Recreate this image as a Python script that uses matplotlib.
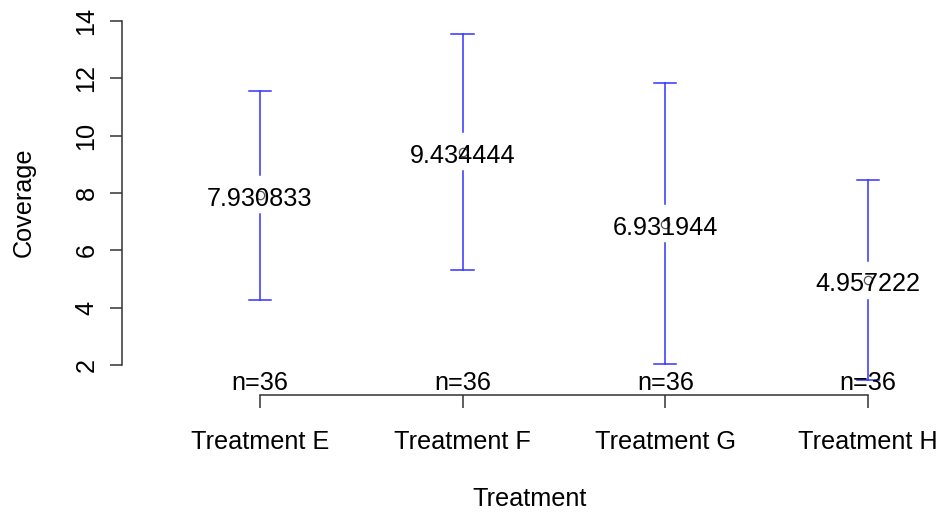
import matplotlib
matplotlib.use("Agg")
import matplotlib.pyplot as plt
import numpy as np

plt.rcParams['font.family'] = ['Liberation Sans', 'DejaVu Sans']

categories = ["Treatment E", "Treatment F", "Treatment G", "Treatment H"]
means = [7.930833, 9.434444, 6.931944, 4.957222]
upper = [11.55, 13.53, 11.85, 8.45]
lower = [4.27, 5.31, 2.02, 1.48]
counts = [36, 36, 36, 36]
yticks = [2, 4, 6, 8, 10, 12, 14]

fig = plt.figure(figsize=(9.38, 5.14), dpi=100)
ax = fig.add_axes([122/938, 1-395/514, 1-122/938, (395-10)/514])
x = np.arange(1, len(categories)+1)
ax.set_xlim(0.32, 1 + (938-260)/202.7)
ax.set_ylim(0.954, 14.38)

gap = 0.68
cap = 0.055
fs = 18.2
for xi, m, u, l, n in zip(x, means, upper, lower, counts):
    ax.plot([xi, xi], [m + gap, u], color='#3333ff', lw=1.1)
    ax.plot([xi, xi], [l, m - gap], color='#3333ff', lw=1.1)
    ax.plot([xi - cap, xi + cap], [u, u], color='#3333ff', lw=1.1)
    ax.plot([xi - cap, xi + cap], [l, l], color='#3333ff', lw=1.1)
    ax.plot([xi], [m], marker='o', ms=6, mfc='none', mec='#555555', mew=0.9)
    ax.text(xi, m - 0.14, f"{m:.6f}".rstrip('0'), ha='center', va='center', fontsize=fs, color='black')
    ax.text(xi, 1.36, f"n={n}", ha='center', va='center', fontsize=fs, color='black')

for s in ['top', 'right']:
    ax.spines[s].set_visible(False)
ax.spines['left'].set_bounds(yticks[0], yticks[-1])
ax.spines['bottom'].set_bounds(x[0], x[-1])
for s in ['left', 'bottom']:
    ax.spines[s].set_color('#333333')
    ax.spines[s].set_linewidth(1.1)

ax.set_yticks(yticks)
ax.set_yticklabels([str(t) for t in yticks], rotation=90, va='center', fontsize=fs)
ax.set_xticks(x)
ax.set_xticklabels(categories, fontsize=fs)
ax.tick_params(axis='both', length=9, width=1.1, color='#333333')
ax.tick_params(axis='y', pad=8)
ax.tick_params(axis='x', pad=16)

ax.set_ylabel("Coverage", fontsize=fs, labelpad=28)
ax.set_xlabel("Treatment", fontsize=fs, labelpad=24)

fig.savefig("out.png", dpi=100)
